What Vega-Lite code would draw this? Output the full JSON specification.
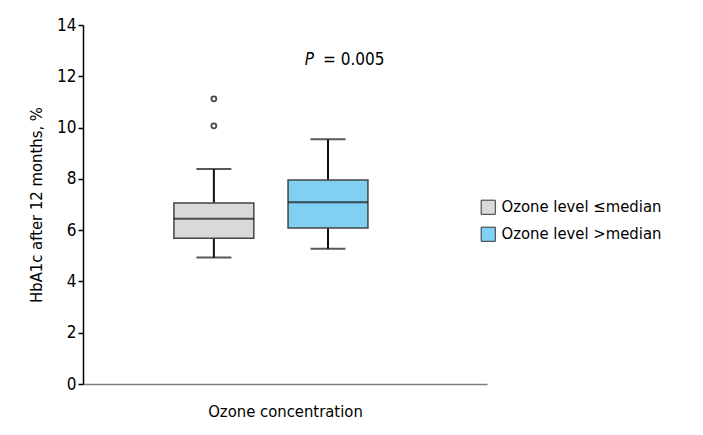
{
  "$schema": "https://vega.github.io/schema/vega-lite/v6.json",
  "width": 404,
  "height": 359,
  "autosize": {"type": "none"},
  "padding": {"left": 83, "top": 25, "right": 216, "bottom": 51},
  "background": "white",
  "config": {
    "font": "DejaVu Sans Condensed",
    "view": {"stroke": null},
    "axis": {"labelFont": "DejaVu Sans Condensed", "titleFont": "DejaVu Sans Condensed", "titleFontWeight": "normal", "labelColor": "#000", "titleColor": "#000", "grid": false},
    "legend": {"labelFont": "DejaVu Sans Condensed"}
  },
  "datasets": {
    "boxes": [
      {"group": "Ozone level ≤median", "lower": 4.93, "q1": 5.68, "median": 6.44, "q3": 7.06, "upper": 8.38},
      {"group": "Ozone level  >median", "lower": 5.27, "q1": 6.08, "median": 7.09, "q3": 7.96, "upper": 9.54}
    ],
    "outliers": [
      {"group": "Ozone level ≤median", "value": 11.12},
      {"group": "Ozone level ≤median", "value": 10.07}
    ],
    "annot": [
      {"group": "Ozone level  >median", "y": 12.64, "p": "P", "rest": "= 0.005"}
    ]
  },
  "encoding": {
    "x": {
      "field": "group", "type": "nominal",
      "sort": ["Ozone level ≤median", "Ozone level  >median"],
      "scale": {"domain": ["Ozone level ≤median", "Ozone level  >median"], "paddingInner": 0.3, "paddingOuter": 0.92, "align": 0.433},
      "axis": {"title": "Ozone concentration", "labels": false, "ticks": false, "domainColor": "#7f7f7f", "domainWidth": 1.5, "titleFontSize": 16.5, "titlePadding": 19}
    }
  },
  "layer": [
    {
      "data": {"name": "boxes"},
      "mark": {"type": "rule", "color": "#111", "strokeWidth": 2},
      "encoding": {
        "y": {"field": "lower", "type": "quantitative", "scale": {"domain": [0, 14]}, "axis": {"values": [0, 2, 4, 6, 8, 10, 12, 14], "title": "HbA1c after 12 months, %", "titleFontSize": 16.5, "labelFontSize": 17, "domainColor": "#000", "domainWidth": 1.5, "tickColor": "#000", "tickSize": 5, "tickWidth": 1.5, "labelPadding": 2, "titlePadding": 12}},
        "y2": {"field": "upper"}
      }
    },
    {
      "data": {"name": "boxes"},
      "mark": {"type": "bar", "stroke": "#444", "strokeWidth": 1.5},
      "encoding": {
        "y": {"field": "q1", "type": "quantitative"},
        "y2": {"field": "q3"},
        "color": {
          "field": "group", "type": "nominal",
          "scale": {"domain": ["Ozone level ≤median", "Ozone level  >median"], "range": ["#d9d9d9", "#80d0f4"]},
          "legend": {"title": null, "orient": "none", "legendX": 397, "legendY": 174, "symbolType": "square", "symbolSize": 200, "symbolStrokeColor": "#333", "symbolStrokeWidth": 1, "labelFontSize": 16.5, "labelColor": "#000", "labelLimit": 300, "rowPadding": 8, "labelOffset": 5}
        }
      }
    },
    {
      "data": {"name": "boxes"},
      "mark": {"type": "tick", "color": "#111", "thickness": 2, "size": 80},
      "encoding": {"y": {"field": "median", "type": "quantitative"}}
    },
    {
      "data": {"name": "boxes"},
      "mark": {"type": "tick", "color": "#111", "thickness": 2, "size": 35},
      "encoding": {"y": {"field": "lower", "type": "quantitative"}}
    },
    {
      "data": {"name": "boxes"},
      "mark": {"type": "tick", "color": "#111", "thickness": 2, "size": 35},
      "encoding": {"y": {"field": "upper", "type": "quantitative"}}
    },
    {
      "data": {"name": "outliers"},
      "mark": {"type": "point", "shape": "circle", "filled": false, "stroke": "#000", "strokeWidth": 1.8, "size": 25},
      "encoding": {"y": {"field": "value", "type": "quantitative"}}
    },
    {
      "data": {"name": "annot"},
      "mark": {"type": "text", "fontSize": 17, "fontStyle": "italic", "align": "right", "dx": -14, "baseline": "middle", "color": "#000"},
      "encoding": {"y": {"field": "y", "type": "quantitative"}, "text": {"field": "p"}}
    },
    {
      "data": {"name": "annot"},
      "mark": {"type": "text", "fontSize": 17, "align": "left", "dx": -5, "baseline": "middle", "color": "#000"},
      "encoding": {"y": {"field": "y", "type": "quantitative"}, "text": {"field": "rest"}}
    }
  ]
}
